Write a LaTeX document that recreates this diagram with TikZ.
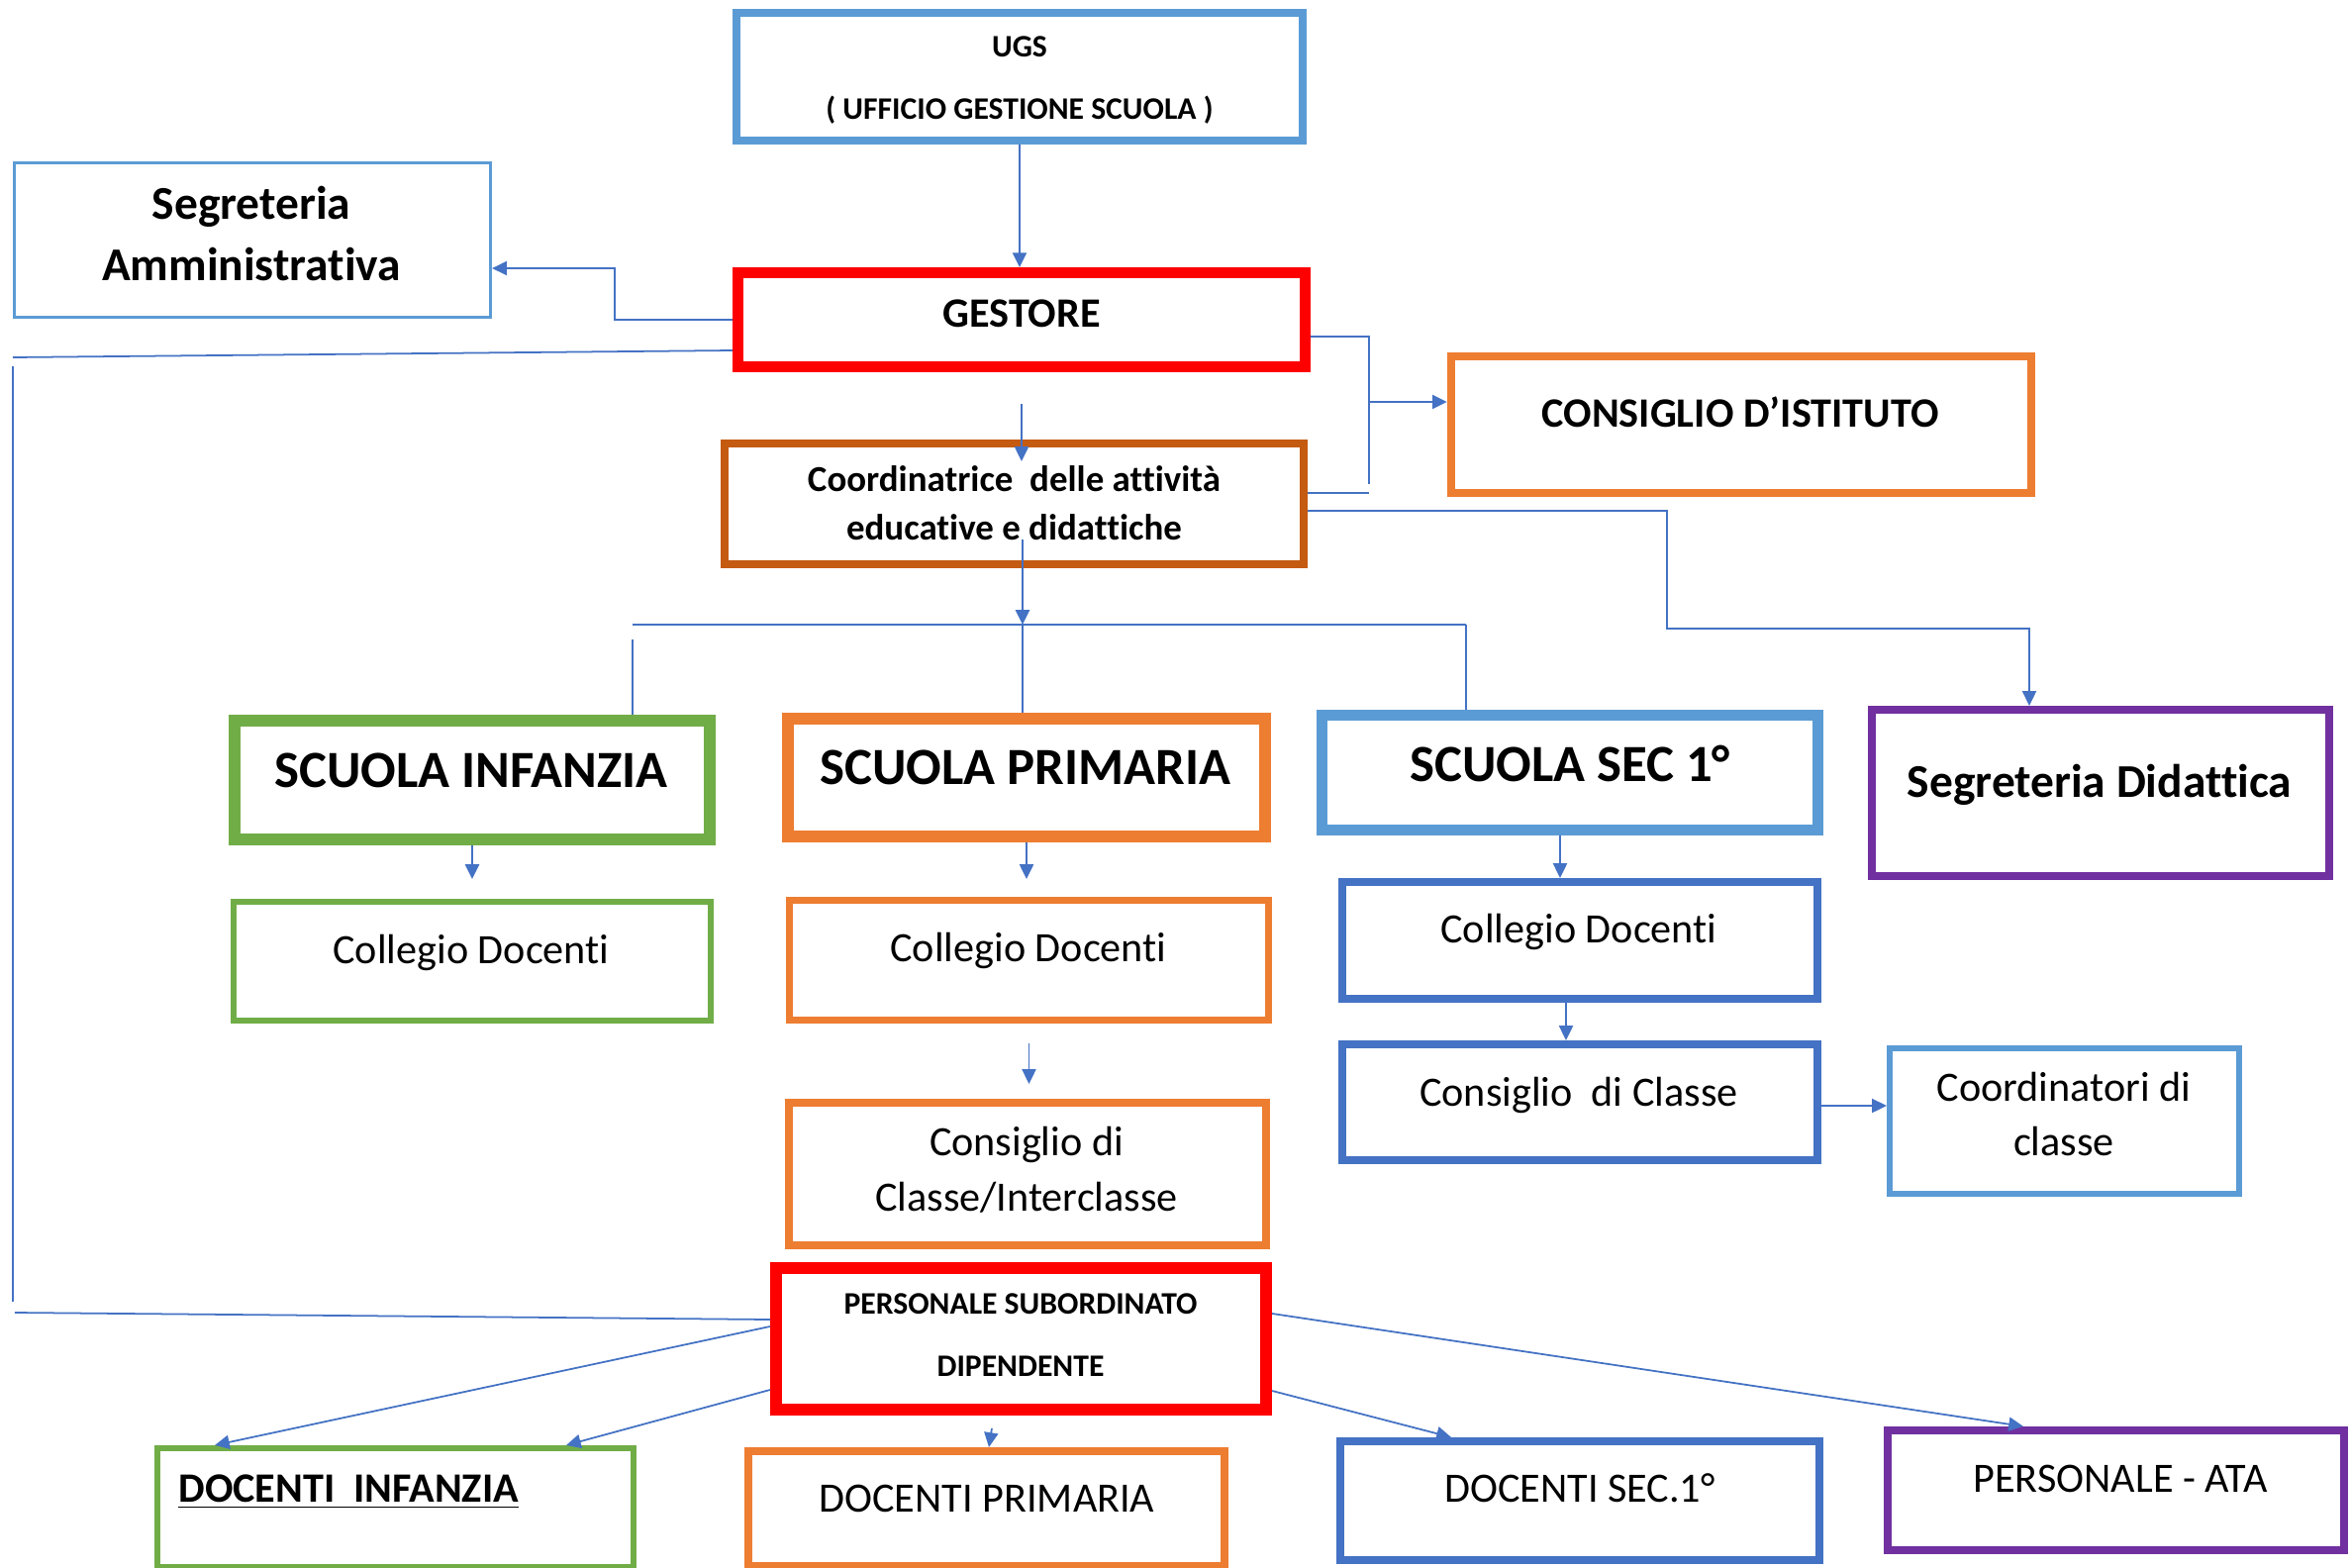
\documentclass[tikz,border=0pt]{standalone}
\usepackage{fontspec}
\setmainfont[Ligatures={TeX,NoCommon}]{Carlito}
\usepackage{tikz}
\usetikzlibrary{arrows.meta}

\begin{document}
\begin{tikzpicture}[x=0.01cm,y=-0.01cm,
  box/.style={draw,rectangle,inner sep=0pt},
  link/.style={draw=linkblue,line width=0.5pt},
  arr/.style={link,-{Triangle[length=4.2pt,width=4pt]}},
  txtbig/.style={anchor=base,font=\bfseries\fontsize{15}{18}\selectfont},
  txthead/.style={anchor=base,font=\bfseries\fontsize{12}{14}\selectfont},
  txtmid/.style={anchor=base,font=\bfseries\fontsize{13.5}{16}\selectfont},
  txtcoord/.style={anchor=base,font=\bfseries\fontsize{10.5}{12}\selectfont},
  txtsmall/.style={anchor=base,font=\bfseries\fontsize{9}{11}\selectfont},
  txtreg/.style={anchor=base,font=\fontsize{12}{14}\selectfont}]
  \definecolor{ltblue}{HTML}{5B9BD5}
  \definecolor{blu}{HTML}{4472C4}
  \definecolor{orng}{HTML}{ED7D31}
  \definecolor{dkorng}{HTML}{C55A11}
  \definecolor{grn}{HTML}{70AD47}
  \definecolor{purp}{HTML}{7030A0}
  \definecolor{linkblue}{HTML}{4472C4}

  \path[use as bounding box,fill=white] (0,0) rectangle (2374,1584);

  % boxes
  \node[box,draw=ltblue,line width=2.3pt,minimum width=5.72cm,minimum height=1.29cm] (ugs) at (1030,77.5) {};
  \node[box,draw=ltblue,line width=0.85pt,minimum width=4.81cm,minimum height=1.56cm] (segamm) at (255,242.5) {};
  \node[box,draw=red,line width=3.1pt,minimum width=5.73cm,minimum height=0.95cm] (gestore) at (1032,323) {};
  \node[box,draw=orng,line width=2.3pt,minimum width=5.86cm,minimum height=1.38cm] (consiglio) at (1759,429) {};
  \node[box,draw=dkorng,line width=2.3pt,minimum width=5.85cm,minimum height=1.22cm] (coord) at (1024.5,509) {};
  \node[box,draw=grn,line width=3.4pt,minimum width=4.80cm,minimum height=1.20cm] (sinf) at (477,788) {};
  \node[box,draw=orng,line width=3.4pt,minimum width=4.82cm,minimum height=1.19cm] (sprim) at (1037,785.5) {};
  \node[box,draw=ltblue,line width=3.1pt,minimum width=5.01cm,minimum height=1.16cm] (ssec) at (1586,780.5) {};
  \node[box,draw=purp,line width=2.3pt,minimum width=4.62cm,minimum height=1.68cm] (segdid) at (2122,801) {};
  \node[box,draw=grn,line width=1.7pt,minimum width=4.82cm,minimum height=1.20cm] (cdinf) at (477,971) {};
  \node[box,draw=orng,line width=2pt,minimum width=4.84cm,minimum height=1.21cm] (cdprim) at (1039.5,970) {};
  \node[box,draw=blu,line width=2.3pt,minimum width=4.80cm,minimum height=1.18cm] (cdsec) at (1596,950) {};
  \node[box,draw=blu,line width=2.3pt,minimum width=4.80cm,minimum height=1.17cm] (ccsec) at (1596,1113.5) {};
  \node[box,draw=ltblue,line width=1.7pt,minimum width=3.53cm,minimum height=1.47cm] (coordcl) at (2085.5,1132.5) {};
  \node[box,draw=orng,line width=2.3pt,minimum width=4.82cm,minimum height=1.44cm] (ccprim) at (1038,1186) {};
  \node[box,draw=red,line width=3.4pt,minimum width=4.95cm,minimum height=1.43cm] (psd) at (1031.5,1352.5) {};
  \node[box,draw=grn,line width=1.7pt,minimum width=4.81cm,minimum height=1.20cm] (dinf) at (399.5,1523) {};
  \node[box,draw=orng,line width=2.3pt,minimum width=4.81cm,minimum height=1.16cm] (dprim) at (996.5,1524) {};
  \node[box,draw=blu,line width=2.3pt,minimum width=4.84cm,minimum height=1.20cm] (dsec) at (1596,1516) {};
  \node[box,draw=purp,line width=2.3pt,minimum width=4.61cm,minimum height=1.21cm] (ata) at (2137.5,1505.5) {};

  % texts
  \node[txtsmall] (ugsA) at (1030,57) {UGS};
  \node[txtsmall] (ugsB) at (1030,120) {( UFFICIO GESTIONE SCUOLA )};
  \node[txtmid] (segammA) at (254,221) {Segreteria};
  \node[txtmid] (segammB) at (254,283) {Amministrativa};
  \node[txthead] (gestoreT) at (1032,330) {GESTORE};
  \node[txthead] (consiglioT) at (1758,431) {CONSIGLIO D’ISTITUTO};
  \node[txtcoord] (coordA) at (1024.5,496) {Coordinatrice~~delle attività};
  \node[txtcoord] (coordB) at (1024.5,545) {educative e didattiche};
  \node[txtbig] (sinfT) at (476,795) {SCUOLA INFANZIA};
  \node[txtbig] (sprimT) at (1036,792) {SCUOLA PRIMARIA};
  \node[txtbig] (ssecT) at (1586,789) {SCUOLA SEC 1°};
  \node[txtmid] (segdidT) at (2121,805) {Segreteria Didattica};
  \node[txtreg] (cdinfT) at (476,973) {Collegio Docenti};
  \node[txtreg] (cdprimT) at (1039,971) {Collegio Docenti};
  \node[txtreg] (cdsecT) at (1595,952) {Collegio Docenti};
  \node[txtreg] (ccsecT) at (1595,1117) {Consiglio~~di Classe};
  \node[txtreg] (coordclA) at (2085,1112) {Coordinatori di};
  \node[txtreg] (coordclB) at (2085,1167) {classe};
  \node[txtreg] (ccprimA) at (1037,1167) {Consiglio di};
  \node[txtreg] (ccprimB) at (1037,1223) {Classe/Interclasse};
  \node[txtsmall] (psdA) at (1031,1327) {PERSONALE SUBORDINATO};
  \node[txtsmall] (psdB) at (1031,1390) {DIPENDENTE};
  \node[txthead,anchor=base west] (dinfT) at (168,1517) {\underline{DOCENTI~~INFANZIA}};
  \node[txtreg] (dprimT) at (997,1527) {DOCENTI PRIMARIA};
  \node[txtreg] (dsecT) at (1596,1517) {DOCENTI SEC.1°};
  \node[txtreg] (ataT) at (2142,1507) {PERSONALE - ATA};

  % connectors
  \coordinate (bL) at (639,631);
  \coordinate (bus) at (1033,631);
  \coordinate (bR) at (1481,631);

  \draw[arr] (ugs.south) -- (ugs.south |- gestore.north);
  \draw[arr] (gestore.west) -- ++(-119,0) |- (segamm.east |- 0,271);
  \draw[link] (gestore.west |- 0,354) -- (13,361);
  \draw[link] (13,370) -- (13,1315);
  \draw[link] (15,1326) -- (psd.west |- 0,1333);
  \draw[link] (gestore.east |- 0,340) -- (1383,340) -- (1383,489);
  \draw[link] (coord.east |- 0,498) -- (1383,498);
  \draw[arr] (1383,406) -- (consiglio.west |- 0,406);
  \draw[arr,shorten <=0.32cm,shorten >=-0.22cm] (gestore.south) -- (gestore.south |- coord.north);
  \draw[arr] (coord.east |- 0,516) -- (1684,516) -- (1684,635) -- (2050,635) -- (segdid.north -| 2050,0);
  \draw[arr] (bus |- coord.south) ++(0,-29) -- (bus);
  \draw[link] (bL) -- (bR);
  \draw[link] (bL) ++(0,15) -- (bL |- sinf.north);
  \draw[link] (bus) -- (bus |- sprim.north);
  \draw[link] (bR) -- (bR |- ssec.north);
  \draw[arr,shorten >=0.2cm] (sinf.south) -- (sinf.south |- cdinf.north);
  \draw[arr,shorten >=0.18cm] (sprim.south) -- (sprim.south |- cdprim.north);
  \draw[arr,shorten <=0.2cm,shorten >=0.15cm] (cdprim.south) -- (cdprim.south |- ccprim.north);
  \draw[arr] (ssec.south -| 1576,0) -- (cdsec.north -| 1576,0);
  \draw[arr] (cdsec.south -| 1582,0) -- (ccsec.north -| 1582,0);
  \draw[arr] (ccsec.east |- 0,1117) -- (coordcl.west |- 0,1117);
  \draw[arr] (psd.west |- 0,1340) -- (dinf.north -| 217,0);
  \draw[arr] (psd.west |- 0,1404) -- (dinf.north -| 572,0);
  \draw[arr,shorten <=0.13cm] (psd.south -| 1004,0) -- (dprim.north -| 999,0);
  \draw[arr] (psd.east |- 0,1405) -- (dsec.north -| 1466,0);
  \draw[arr] (psd.east |- 0,1327) -- (ata.north -| 2044,0);
\end{tikzpicture}
\end{document}
